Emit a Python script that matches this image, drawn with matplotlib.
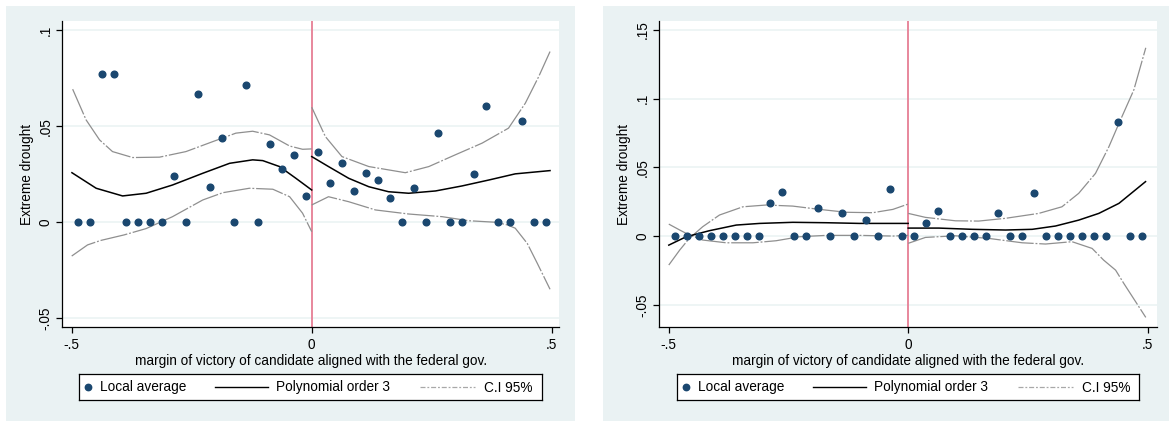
import matplotlib
matplotlib.use('Agg')
import matplotlib.pyplot as plt
from matplotlib.patches import Rectangle

plt.rcParams['font.family'] = ['Liberation Sans', 'DejaVu Sans']

# ---------------- data ----------------
bins_neg = [-0.4875, -0.4625, -0.4375, -0.4125, -0.3875, -0.3625, -0.3375, -0.3125,
            -0.2875, -0.2625, -0.2375, -0.2125, -0.1875, -0.1625, -0.1375, -0.1125,
            -0.0875, -0.0625, -0.0375, -0.0125]
bins_pos = [0.0125, 0.0375, 0.0625, 0.0875, 0.1125, 0.1375, 0.1625, 0.1875,
            0.2125, 0.2375, 0.2625, 0.2875, 0.3125, 0.3375, 0.3625, 0.3875,
            0.4125, 0.4375, 0.4625, 0.4875]

# Panel 1: local averages
p1_avg_neg = [0, 0, 0.077, 0.077, 0, 0, 0, 0, 0.024, 0, 0.0667, 0.0184, 0.0441, 0,
              0.0715, 0, 0.041, 0.0276, 0.0351, 0.0137]
p1_avg_pos = [0.0365, 0.0206, 0.031, 0.0163, 0.0258, 0.022, 0.0125, 0, 0.0177, 0,
              0.0467, 0, 0, 0.025, 0.0606, 0, 0, 0.0528, 0, 0]
# Panel 1: polynomial fit and CI
p1_fit_neg_x = [-0.4995, -0.449, -0.394, -0.345, -0.29, -0.227, -0.171, -0.123, -0.102, -0.067, -0.033, 0.0]
p1_fit_neg_y = [0.0258, 0.0177, 0.0137, 0.0151, 0.0194, 0.0255, 0.0307, 0.0325, 0.0321, 0.029, 0.0229, 0.0168]
p1_hi_neg_x = [-0.498, -0.470, -0.442, -0.415, -0.373, -0.317, -0.262, -0.206, -0.158, -0.123, -0.088, -0.046, -0.019, 0.0]
p1_hi_neg_y = [0.0693, 0.0533, 0.0429, 0.0368, 0.0337, 0.0339, 0.0368, 0.042, 0.0464, 0.0474, 0.0455, 0.0397, 0.038, 0.0382]
p1_lo_neg_x = [-0.5, -0.467, -0.44, -0.391, -0.345, -0.29, -0.227, -0.185, -0.13, -0.081, -0.046, -0.019, 0.0]
p1_lo_neg_y = [-0.0176, -0.0118, -0.0095, -0.0066, -0.0033, 0.0029, 0.0116, 0.0154, 0.0177, 0.0172, 0.0133, 0.0047, -0.0049]
p1_fit_pos_x = [0.0, 0.035, 0.077, 0.119, 0.160, 0.202, 0.258, 0.313, 0.369, 0.424, 0.4965]
p1_fit_pos_y = [0.0342, 0.029, 0.0229, 0.0185, 0.0159, 0.0151, 0.0163, 0.0189, 0.022, 0.0252, 0.0269]
p1_hi_pos_x = [0.0, 0.0285, 0.063, 0.119, 0.195, 0.244, 0.299, 0.355, 0.41, 0.445, 0.473, 0.4965]
p1_hi_pos_y = [0.0599, 0.0446, 0.0342, 0.029, 0.0258, 0.029, 0.0351, 0.0412, 0.049, 0.062, 0.0759, 0.0889]
p1_lo_pos_x = [0.0, 0.035, 0.077, 0.133, 0.202, 0.272, 0.327, 0.383, 0.408, 0.424, 0.449, 0.47, 0.4965]
p1_lo_pos_y = [0.009, 0.0133, 0.0107, 0.0064, 0.0043, 0.0029, 0.0008, 0.0, -0.0014, -0.0031, -0.011, -0.0214, -0.0349]

# Panel 2: local averages
p2_avg_neg = [0, 0, 0, 0, 0, 0, 0, 0, 0.0243, 0.032, 0, 0, 0.0201, 0, 0.0165, 0,
              0.0116, 0, 0.034, 0]
p2_avg_pos = [0, 0.0092, 0.0182, 0, 0, 0, 0, 0.017, 0, 0, 0.0315, 0, 0, 0, 0, 0,
              0, 0.0832, 0, 0]
# Panel 2: polynomial fit and CI
p2_fit_neg_x = [-0.4998, -0.4635, -0.415, -0.359, -0.31, -0.241, -0.171, -0.102, 0.0]
p2_fit_neg_y = [-0.0066, -0.0005, 0.0039, 0.008, 0.0092, 0.01, 0.0097, 0.0092, 0.0092]
p2_ciA_neg_x = [-0.4998, -0.477, -0.4566, -0.429, -0.38, -0.324, -0.2756, -0.227, -0.171, -0.102, -0.032, 0.0]
p2_ciA_neg_y = [0.0087, 0.0044, 0.0007, -0.0029, -0.0049, -0.0049, -0.0034, -0.0005, 0.0005, 0.0005, 0.0, 0.0005]
p2_ciB_neg_x = [-0.4998, -0.477, -0.457, -0.429, -0.394, -0.345, -0.296, -0.241, -0.185, -0.129, -0.074, -0.032, 0.0]
p2_ciB_neg_y = [-0.0211, -0.0102, -0.0017, 0.0068, 0.0153, 0.0213, 0.0226, 0.0218, 0.0194, 0.0173, 0.017, 0.0194, 0.0233]
p2_fit_pos_x = [0.0, 0.064, 0.1336, 0.203, 0.259, 0.3075, 0.356, 0.398, 0.44, 0.4955]
p2_fit_pos_y = [0.0058, 0.0058, 0.0049, 0.0044, 0.0049, 0.0073, 0.0116, 0.0165, 0.0238, 0.0396]
p2_hi_pos_x = [0.0, 0.036, 0.0987, 0.147, 0.203, 0.2727, 0.321, 0.356, 0.391, 0.419, 0.44, 0.471, 0.496]
p2_hi_pos_y = [0.0165, 0.0136, 0.0111, 0.0109, 0.0129, 0.0165, 0.0213, 0.0311, 0.0456, 0.065, 0.082, 0.1063, 0.137]
p2_lo_pos_x = [0.0, 0.036, 0.0987, 0.168, 0.238, 0.2866, 0.342, 0.384, 0.408, 0.433, 0.45, 0.496]
p2_lo_pos_y = [-0.0053, -0.001, 0.0002, -0.0017, -0.0049, -0.0058, -0.0041, -0.009, -0.0175, -0.0248, -0.0344, -0.0592]

xticks = [-0.5, 0, 0.5]
xtick_labels = ['-.5', '0', '.5']
p1_yticks = [-0.05, 0, 0.05, 0.1]
p1_ytick_labels = ['-.05', '0', '.05', '.1']
p2_yticks = [-0.05, 0, 0.05, 0.1, 0.15]
p2_ytick_labels = ['-.05', '0', '.05', '.1', '.15']
xlabel = 'margin of victory of candidate aligned with the federal gov.'
ylabel = 'Extreme drought'
legend_labels = ['Local average', 'Polynomial order 3', 'C.I 95%']

# ---------------- style ----------------
W, H = 1169, 421
BG = '#eaf2f3'
NAVY = '#1a476f'
CI_COL = '#8f8f8f'
VCOL = '#e8879c'
FS = 9.8
CI_DASH = (22, 1.5, 1.5, 1.5)

fig = plt.figure(figsize=(W / 100, H / 100), dpi=100)
fig.patch.set_facecolor('white')


def fbox(x0, y0, x1, y1):
    return [x0 / W, 1 - y1 / H, (x1 - x0) / W, (y1 - y0) / H]


# outer panel backgrounds (in a full-figure axes placed beneath everything)
bg_ax = fig.add_axes([0, 0, 1, 1], zorder=-10)
bg_ax.set_xlim(0, W)
bg_ax.set_ylim(H, 0)
bg_ax.axis('off')
for (x0, x1) in [(6, 575), (603, 1169)]:
    bg_ax.add_patch(Rectangle((x0, 6), x1 - x0, H - 6, facecolor=BG, edgecolor='none'))


def panel(box, xlim, ylim, yticks, ylabels, avg_neg, avg_pos, fits, cis):
    ax = fig.add_axes(box)
    ax.set_facecolor('white')
    ax.set_xlim(*xlim)
    ax.set_ylim(*ylim)
    for yt in yticks:
        ax.axhline(yt, color=BG, lw=1.1, zorder=1)
    ax.axvline(0, color=VCOL, lw=1.4, zorder=2)
    for (xs, ys) in cis:
        ax.plot(xs, ys, color=CI_COL, lw=0.9, dashes=CI_DASH, zorder=3)
    for (xs, ys) in fits:
        ax.plot(xs, ys, color='black', lw=1.1, zorder=4)
    ax.plot(bins_neg, avg_neg, 'o', color=NAVY, ms=4.8, mec=NAVY, zorder=5)
    ax.plot(bins_pos, avg_pos, 'o', color=NAVY, ms=4.8, mec=NAVY, zorder=5)
    for s in ['top', 'right']:
        ax.spines[s].set_visible(False)
    for s in ['left', 'bottom']:
        ax.spines[s].set_color('black')
        ax.spines[s].set_linewidth(0.9)
    ax.set_xticks(xticks)
    ax.set_xticklabels(xtick_labels, fontsize=FS)
    ax.set_yticks(yticks)
    ax.set_yticklabels(ylabels, fontsize=FS, rotation=90, va='center')
    ax.tick_params(axis='both', length=4, width=0.9, color='black')
    ax.tick_params(axis='x', pad=3.5)
    ax.tick_params(axis='y', pad=3)
    ax.set_xlabel(xlabel, fontsize=FS, labelpad=2)
    ax.set_ylabel(ylabel, fontsize=FS, labelpad=3)
    return ax


panel(fbox(62, 21, 559.3, 327.3), (-0.5202, 0.5158), (-0.0547, 0.1048),
      p1_yticks, p1_ytick_labels, p1_avg_neg, p1_avg_pos,
      [(p1_fit_neg_x, p1_fit_neg_y), (p1_fit_pos_x, p1_fit_pos_y)],
      [(p1_hi_neg_x, p1_hi_neg_y), (p1_lo_neg_x, p1_lo_neg_y),
       (p1_hi_pos_x, p1_hi_pos_y), (p1_lo_pos_x, p1_lo_pos_y)])

panel(fbox(659.3, 21, 1156.7, 327.3), (-0.5196, 0.5188), (-0.0664, 0.1565),
      p2_yticks, p2_ytick_labels, p2_avg_neg, p2_avg_pos,
      [(p2_fit_neg_x, p2_fit_neg_y), (p2_fit_pos_x, p2_fit_pos_y)],
      [(p2_ciA_neg_x, p2_ciA_neg_y), (p2_ciB_neg_x, p2_ciB_neg_y),
       (p2_hi_pos_x, p2_hi_pos_y), (p2_lo_pos_x, p2_lo_pos_y)])


# legends (drawn in their own small axes, pixel units inside the box)
def legend_box(x0, x1):
    w = x1 - x0
    lg = fig.add_axes(fbox(x0, 374, x1, 400))
    lg.set_xlim(0, w)
    lg.set_ylim(0, 26)
    lg.set_facecolor('white')
    lg.set_xticks([])
    lg.set_yticks([])
    for s in lg.spines.values():
        s.set_color('black')
        s.set_linewidth(0.9)
    lg.plot([9], [13], 'o', color=NAVY, ms=4.6)
    lg.text(21, 12.5, legend_labels[0], fontsize=FS, va='center', ha='left')
    lg.plot([136, 189], [13, 13], color='black', lw=1.0)
    lg.text(197, 12.5, legend_labels[1], fontsize=FS, va='center', ha='left')
    lg.plot([341, 396], [13, 13], color='#a8a8a8', lw=0.9, dashes=(4, 1.5, 1.5, 1.5))
    lg.text(405, 12.5, legend_labels[2], fontsize=FS, va='center', ha='left')


legend_box(79, 542)
legend_box(676.7, 1139)

fig.savefig('out.png', dpi=100, facecolor='white')
